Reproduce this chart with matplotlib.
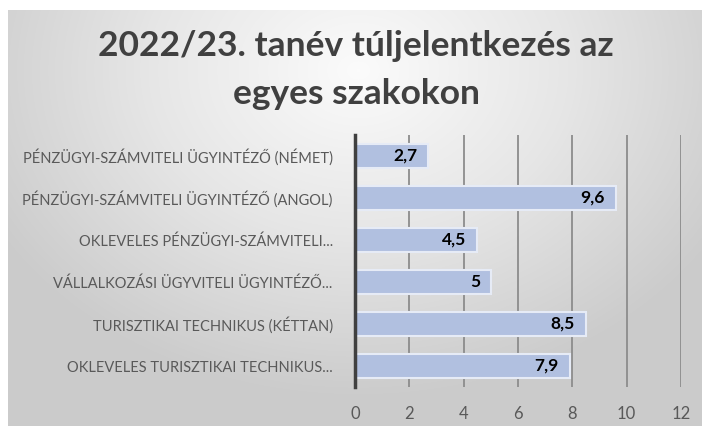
import numpy as np
import matplotlib
matplotlib.use("Agg")
import matplotlib.pyplot as plt
from matplotlib.colors import LinearSegmentedColormap

plt.rcParams["font.family"] = ["Lato", "DejaVu Sans"]

categories = [
    "PÉNZÜGYI-SZÁMVITELI ÜGYINTÉZŐ (NÉMET)",
    "PÉNZÜGYI-SZÁMVITELI ÜGYINTÉZŐ (ANGOL)",
    "OKLEVELES PÉNZÜGYI-SZÁMVITELI...",
    "VÁLLALKOZÁSI ÜGYVITELI ÜGYINTÉZŐ...",
    "TURISZTIKAI TECHNIKUS (KÉTTAN)",
    "OKLEVELES TURISZTIKAI TECHNIKUS...",
]
values = [2.7, 9.6, 4.5, 5, 8.5, 7.9]
value_labels = ["2,7", "9,6", "4,5", "5", "8,5", "7,9"]
x_ticks = [0, 2, 4, 6, 8, 10, 12]

W, H = 702, 426
fig = plt.figure(figsize=(W / 100, H / 100), dpi=100)
fig.patch.set_facecolor("white")

# radial gray gradient background
bg = fig.add_axes([8 / W, 0, (W - 8) / W, (H - 10) / H], zorder=0)
bg.set_axis_off()
yy, xx = np.mgrid[0:416, 0:694]
d = np.sqrt(((xx - 350) / 420.0) ** 2 + ((yy - 60) / 330.0) ** 2)
d = np.clip(d, 0, 1)
cmap = LinearSegmentedColormap.from_list("bg", ["#fbfbfb", "#e6e6e6", "#cbcbcb"])
bg.imshow(d, cmap=cmap, aspect="auto", vmin=0, vmax=1, interpolation="bilinear")

fig.text(356 / W, 1 - 46 / H, "2022/23. tanév túljelentkezés az", ha="center",
         va="center", fontsize=25.5, fontweight="bold", color="#404040")
fig.text(356 / W, 1 - 94 / H, "egyes szakokon", ha="center",
         va="center", fontsize=25.5, fontweight="bold", color="#404040")

ax = fig.add_axes([355 / W, 1 - 387 / H, 326 / W, 252 / H], zorder=1)
ax.patch.set_visible(False)

y = np.arange(len(categories))
ax.barh(y, values, height=0.57, color="#b1c0e0", edgecolor="#e6ebf6",
        linewidth=1.5, zorder=3)
for yi, v, lab in zip(y, values, value_labels):
    ax.text(v - 0.4, yi, lab, ha="right", va="center", fontsize=12.5,
            fontweight="bold", color="black", zorder=4)

ax.set_xlim(0, 12)
ax.set_ylim(len(categories) - 0.5, -0.5)
ax.set_xticks(x_ticks)
ax.set_xticklabels([str(t) for t in x_ticks])
ax.set_yticks(y)
ax.set_yticklabels(categories)
ax.tick_params(axis="both", length=0, colors="#595959")
ax.tick_params(axis="x", pad=14, labelsize=12)
ax.tick_params(axis="y", pad=16, labelsize=10.5)
ax.grid(axis="x", color="#8c8c8c", linewidth=1.3, zorder=1)
for s in ["top", "right", "bottom"]:
    ax.spines[s].set_visible(False)
ax.spines["left"].set_color("#404040")
ax.spines["left"].set_linewidth(2.5)
ax.spines["left"].set_zorder(5)

fig.savefig("out.png", dpi=100)
